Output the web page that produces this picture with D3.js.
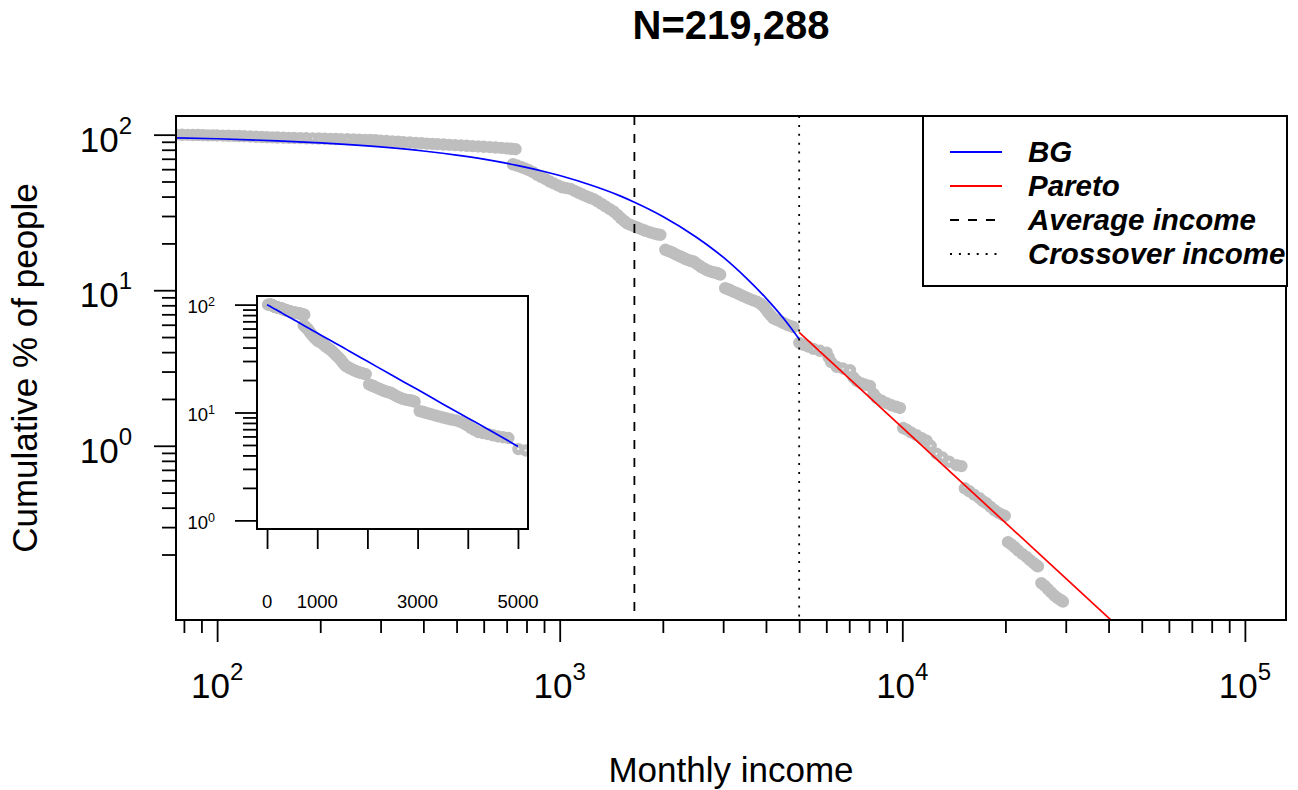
<!DOCTYPE html>
<html>
<head>
<meta charset="utf-8">
<script src="https://cdn.jsdelivr.net/npm/d3@7"></script>
<style>
  body { margin: 0; background: #fff; }
  text { font-family: "Liberation Sans", Arial, Helvetica, sans-serif; fill: #000; }
</style>
</head>
<body>
<svg id="chart" width="1298" height="790"></svg>
<script>
// ---- empirical complementary CDF: income level and cumulative % of people at or above it ----
const incomeLevels = [
  20, 40, 60, 70, 76, 79, 82, 85, 88, 91, 94, 97, 100, 104, 108, 112, 116, 120, 125, 130, 135, 140, 145, 150,
  156, 162, 168, 175, 182, 190, 198, 206, 214, 222, 230, 240, 250, 260, 270, 280, 290, 300, 312, 325, 338, 350,
  365, 380, 395, 410, 425, 440, 458, 476, 495, 515, 535, 556, 578, 600, 625, 650, 675, 700, 722, 743,
  730, 750, 770, 790, 810, 835, 860, 885, 910, 935, 960, 988, 1017, 1046, 1075, 1105, 1135, 1165, 1195, 1226,
  1257, 1290, 1325, 1360, 1400, 1438, 1475, 1510, 1545, 1573, 1610, 1650, 1690, 1735, 1780, 1830, 1880, 1925, 1967,
  2034, 2070, 2102, 2140, 2180, 2220, 2260, 2300, 2340, 2380, 2420, 2459, 2500, 2545, 2590, 2635, 2680, 2730, 2780, 2830, 2876, 2910, 2941,
  3041, 3100, 3146, 3210, 3280, 3350, 3420, 3500, 3580, 3670, 3763, 3850, 3930, 3990, 4060, 4130, 4206, 4300, 4400, 4500, 4600, 4700, 4809,
  5008, 5150, 5300, 5501, 5750, 6018, 6100, 6200, 6435, 6700, 7037, 7200, 7360, 7600, 7800, 8046, 8250, 8416, 8700, 9000, 9300, 9600, 9840,
  10060, 10292, 10600, 11000, 11400, 11773, 12100, 12590, 13100, 13700, 14400, 14880,
  15220, 15700, 16200, 16800, 17200, 17604, 18100, 18600, 19100, 19680, 19910,
  20350, 20800, 21300, 21800, 22400, 23030, 23600, 24200, 24620, 24890,
  25460, 26000, 26600, 27200, 27800, 28400, 29000, 29440
];
const cumulativePct = [
  100, 100, 100, 100, 100, 99.8, 99.7, 99.5, 99.4, 99.2, 99.0, 98.9, 98.8, 98.6, 98.4, 98.2, 98.0, 97.7, 97.3, 96.9, 96.6, 96.3, 96.0, 95.8,
  95.6, 95.4, 95.2, 95.0, 94.8, 94.6, 94.4, 94.2, 94.0, 93.8, 93.6, 93.4, 93.1, 92.9, 92.6, 92.4, 92.0, 91.6, 91.1, 90.6, 90.1, 89.6,
  89.1, 88.6, 88.1, 87.6, 87.2, 86.8, 86.4, 86.0, 85.6, 85.2, 84.8, 84.4, 84.0, 83.6, 83.2, 82.7, 82.2, 81.6, 81.1, 80.6,
  64.5, 63.3, 62.0, 60.7, 59.3, 57.4, 55.1, 53.4, 51.7, 50.0, 48.6, 47.2, 45.9, 45.3, 44.8, 43.5, 42.3, 41.2, 40.2, 39.3,
  38.5, 37.2, 35.9, 34.6, 33.2, 32.0, 30.5, 29.0, 27.8, 26.9, 26.3, 25.7, 25.2, 24.6, 24.1, 23.6, 23.2, 22.9, 22.7,
  18.2, 17.9, 17.7, 17.4, 17.0, 16.7, 16.4, 16.1, 15.8, 15.6, 15.4, 15.3, 14.9, 14.5, 14.1, 13.8, 13.5, 13.3, 13.1, 13.0, 12.9, 12.75, 12.6,
  10.3, 10.15, 10.0, 9.8, 9.6, 9.4, 9.2, 9.0, 8.8, 8.6, 8.45, 8.2, 7.9, 7.6, 7.2, 6.9, 6.6, 6.45, 6.3, 6.15, 6.0, 5.9, 5.8,
  4.58, 4.45, 4.35, 4.2, 4.08, 3.97, 3.7, 3.45, 3.22, 3.14, 3.06, 2.75, 2.61, 2.52, 2.47, 2.42, 2.15, 2.03, 1.95, 1.88, 1.82, 1.78, 1.75,
  1.30, 1.27, 1.22, 1.17, 1.12, 1.08, 1.0, 0.89, 0.84, 0.79, 0.75, 0.74,
  0.533, 0.51, 0.485, 0.46, 0.44, 0.427, 0.405, 0.385, 0.37, 0.358, 0.354,
  0.24, 0.232, 0.222, 0.212, 0.202, 0.193, 0.184, 0.176, 0.17, 0.168,
  0.131, 0.126, 0.12, 0.114, 0.109, 0.105, 0.102, 0.0997
];

// ---- fitted Boltzmann-Gibbs (exponential) part, below the crossover ----
const bgIncome = [0, 50, 100, 150, 200, 300, 400, 500, 600, 750, 900, 1000, 1250, 1500, 1652, 2000, 2500, 3000, 3500, 4000, 4500, 5000];
const bgPct    = [100, 97.0, 94.1, 91.3, 88.6, 83.4, 78.5, 73.9, 69.6, 63.5, 58.0, 54.6, 46.9, 40.4, 36.8, 29.8, 22.0, 16.3, 12.0, 8.9, 6.6, 4.85];

// ---- fitted Pareto tail, above the crossover ----
const paretoIncome = [5000, 40600];
const paretoPct    = [5.35, 0.076];

// ---- reference incomes ----
const averageIncome = 1652;
const crossoverIncome = 5000;

// ---- axis ticks ----
const xMajorTicks = [100, 1000, 10000, 100000];
const xMajorExp   = ["2", "3", "4", "5"];
const xMinorTicks = [80, 90, 200, 300, 400, 500, 600, 700, 800, 900,
                     2000, 3000, 4000, 5000, 6000, 7000, 8000, 9000,
                     20000, 30000, 40000, 50000, 60000, 70000, 80000, 90000];
const yMajorTicks = [1, 10, 100];
const yMajorExp   = ["0", "1", "2"];
const yMinorTicks = [0.2, 0.3, 0.4, 0.5, 0.6, 0.7, 0.8, 0.9, 2, 3, 4, 5, 6, 7, 8, 9, 20, 30, 40, 50, 60, 70, 80, 90];

const insetXTicks  = [0, 1000, 2000, 3000, 4000, 5000];
const insetXLabels = ["0", "1000", "", "3000", "", "5000"];
const insetYMajor  = [1, 10, 100];
const insetYExp    = ["0", "1", "2"];
const insetYMinor  = [2, 3, 4, 5, 6, 7, 8, 9, 20, 30, 40, 50, 60, 70, 80, 90];

const legendLabels = ["BG", "Pareto", "Average income", "Crossover income"];

// ---- helpers: axis limits padded by 4% like base graphics ----
function padLog(lim) {
  const a = Math.log10(lim[0]), b = Math.log10(lim[1]), d = (b - a) * 0.04;
  return [Math.pow(10, a - d), Math.pow(10, b + d)];
}
function padLin(lim) {
  const d = (lim[1] - lim[0]) * 0.04;
  return [lim[0] - d, lim[1] + d];
}

const svg = d3.select("#chart");
const P = { left: 176, right: 1286, top: 116, bottom: 620 };
const x = d3.scaleLog().domain(padLog([100, 100000])).range([P.left, P.right]);
const y = d3.scaleLog().domain(padLog([0.1, 100])).range([P.bottom, P.top]);

const points = incomeLevels.map((v, i) => ({ inc: v, pct: cumulativePct[i] }));
const bg = bgIncome.map((v, i) => ({ inc: v, pct: bgPct[i] }));
const pareto = paretoIncome.map((v, i) => ({ inc: v, pct: paretoPct[i] }));

// open-circle marker with a heavy outline
const MARK_R = 3.6, MARK_W = 5.2;

const defs = svg.append("defs");
defs.append("clipPath").attr("id", "clipMain").append("rect")
  .attr("x", P.left).attr("y", P.top).attr("width", P.right - P.left).attr("height", P.bottom - P.top);

// title
svg.append("text").attr("x", (P.left + P.right) / 2).attr("y", 39)
  .attr("text-anchor", "middle").attr("font-size", 40).attr("font-weight", "bold")
  .text("N=219,288");

// main plot content
const gMain = svg.append("g").attr("clip-path", "url(#clipMain)");
gMain.selectAll("circle.pt").data(points).join("circle").attr("class", "pt")
  .attr("cx", d => x(d.inc)).attr("cy", d => y(d.pct)).attr("r", MARK_R)
  .attr("fill", "none").attr("stroke", "#BEBEBE").attr("stroke-width", MARK_W);

const bgLine = d3.line().x(d => x(d.inc)).y(d => y(d.pct)).curve(d3.curveMonotoneX);
gMain.append("path").datum(bg.filter(d => d.inc > 0)).attr("d", bgLine)
  .attr("fill", "none").attr("stroke", "#0000FF").attr("stroke-width", 1.7);
gMain.append("path").datum(pareto).attr("d", d3.line().x(d => x(d.inc)).y(d => y(d.pct)))
  .attr("fill", "none").attr("stroke", "#FF0000").attr("stroke-width", 1.7);

gMain.append("line").attr("x1", x(averageIncome)).attr("x2", x(averageIncome))
  .attr("y1", P.top).attr("y2", P.bottom)
  .attr("stroke", "#000").attr("stroke-width", 1.8).attr("stroke-dasharray", "9,9");
gMain.append("line").attr("x1", x(crossoverIncome)).attr("x2", x(crossoverIncome))
  .attr("y1", P.top).attr("y2", P.bottom)
  .attr("stroke", "#000").attr("stroke-width", 1.8).attr("stroke-dasharray", "2,6.9");

// ticks
function tickAxis(axis, g) {
  g.call(axis);
  g.select(".domain").remove();
  g.selectAll("line").attr("stroke", "#000").attr("stroke-width", 1.8);
}
tickAxis(d3.axisBottom(x).tickValues(xMinorTicks).tickSize(13).tickFormat(""),
  svg.append("g").attr("transform", `translate(0,${P.bottom})`));
tickAxis(d3.axisBottom(x).tickValues(xMajorTicks).tickSize(22).tickFormat(""),
  svg.append("g").attr("transform", `translate(0,${P.bottom})`));
tickAxis(d3.axisLeft(y).tickValues(yMinorTicks).tickSize(14).tickFormat(""),
  svg.append("g").attr("transform", `translate(${P.left},0)`));
tickAxis(d3.axisLeft(y).tickValues(yMajorTicks).tickSize(22).tickFormat(""),
  svg.append("g").attr("transform", `translate(${P.left},0)`));

function powerLabel(g, px, py, exp, size, supSize, rise, anchor) {
  const t = g.append("text").attr("x", px).attr("y", py)
    .attr("text-anchor", anchor).attr("font-size", size);
  t.append("tspan").text("10");
  t.append("tspan").attr("font-size", supSize).attr("dy", -rise).text(exp);
}
xMajorTicks.forEach((v, i) => powerLabel(svg, x(v), 698, xMajorExp[i], 35, 24, 18, "middle"));
yMajorTicks.forEach((v, i) => powerLabel(svg, 132, y(v) + 17, yMajorExp[i], 35, 24, 18, "end"));

// plot frame
svg.append("rect").attr("x", P.left).attr("y", P.top)
  .attr("width", P.right - P.left).attr("height", P.bottom - P.top)
  .attr("fill", "none").attr("stroke", "#000").attr("stroke-width", 2);

// axis titles
svg.append("text").attr("x", (P.left + P.right) / 2).attr("y", 782)
  .attr("text-anchor", "middle").attr("font-size", 35).text("Monthly income");
svg.append("text").attr("transform", `translate(37,${(P.top + P.bottom) / 2}) rotate(-90)`)
  .attr("text-anchor", "middle").attr("font-size", 35).text("Cumulative % of people");

// legend
const L = { left: 923, top: 116, right: 1287, bottom: 286 };
svg.append("rect").attr("x", L.left).attr("y", L.top)
  .attr("width", L.right - L.left).attr("height", L.bottom - L.top)
  .attr("fill", "#fff").attr("stroke", "#000").attr("stroke-width", 2);
const legendStyles = [
  { color: "#0000FF", dash: null },
  { color: "#FF0000", dash: null },
  { color: "#000", dash: "9,9" },
  { color: "#000", dash: "2,6.9" }
];
legendLabels.forEach((lab, i) => {
  const cy = 152 + i * 34;
  const ln = svg.append("line").attr("x1", 950).attr("x2", 1002).attr("y1", cy).attr("y2", cy)
    .attr("stroke", legendStyles[i].color).attr("stroke-width", 1.8);
  if (legendStyles[i].dash) ln.attr("stroke-dasharray", legendStyles[i].dash);
  svg.append("text").attr("x", 1028).attr("y", cy + 10)
    .attr("font-size", 29.5).attr("font-weight", "bold").attr("font-style", "italic").text(lab);
});

// ---- inset: same data on a linear income axis ----
const I = { left: 257, right: 528, top: 296, bottom: 529 };
const ix = d3.scaleLinear().domain(padLin([0, 5000])).range([I.left, I.right]);
const iy = d3.scaleLog().domain(padLog([1, 100])).range([I.bottom, I.top]);
defs.append("clipPath").attr("id", "clipInset").append("rect")
  .attr("x", I.left).attr("y", I.top).attr("width", I.right - I.left).attr("height", I.bottom - I.top);

svg.append("rect").attr("x", I.left).attr("y", I.top)
  .attr("width", I.right - I.left).attr("height", I.bottom - I.top).attr("fill", "#fff");
const gIn = svg.append("g").attr("clip-path", "url(#clipInset)");
gIn.selectAll("circle").data(points).join("circle")
  .attr("cx", d => ix(d.inc)).attr("cy", d => iy(d.pct)).attr("r", MARK_R)
  .attr("fill", "none").attr("stroke", "#BEBEBE").attr("stroke-width", MARK_W);
gIn.append("path").datum(bg)
  .attr("d", d3.line().x(d => ix(d.inc)).y(d => iy(d.pct)).curve(d3.curveMonotoneX))
  .attr("fill", "none").attr("stroke", "#0000FF").attr("stroke-width", 1.7);

tickAxis(d3.axisBottom(ix).tickValues(insetXTicks).tickSize(20).tickFormat(""),
  svg.append("g").attr("transform", `translate(0,${I.bottom})`));
tickAxis(d3.axisLeft(iy).tickValues(insetYMinor).tickSize(14).tickFormat(""),
  svg.append("g").attr("transform", `translate(${I.left},0)`));
tickAxis(d3.axisLeft(iy).tickValues(insetYMajor).tickSize(22).tickFormat(""),
  svg.append("g").attr("transform", `translate(${I.left},0)`));

insetXTicks.forEach((v, i) => {
  if (!insetXLabels[i]) return;
  svg.append("text").attr("x", ix(v)).attr("y", 608).attr("text-anchor", "middle")
    .attr("font-size", 18.5).text(insetXLabels[i]);
});
insetYMajor.forEach((v, i) => powerLabel(svg, 215, iy(v) + 8.5, insetYExp[i], 18.5, 12.5, 7, "end"));

svg.append("rect").attr("x", I.left).attr("y", I.top)
  .attr("width", I.right - I.left).attr("height", I.bottom - I.top)
  .attr("fill", "none").attr("stroke", "#000").attr("stroke-width", 2);
</script>
</body>
</html>
